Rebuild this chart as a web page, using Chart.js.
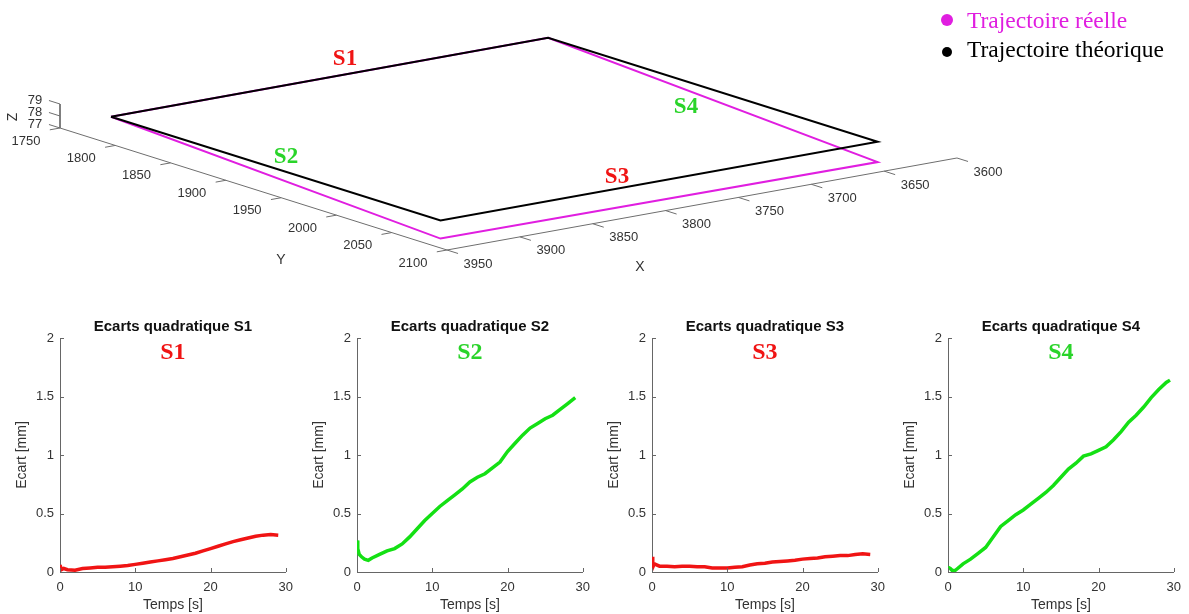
<!DOCTYPE html>
<html>
<head>
<meta charset="utf-8">
<script src="https://cdn.jsdelivr.net/npm/chart.js@4.4.0/dist/chart.umd.min.js"></script>
<style>
    html, body { margin: 0; padding: 0; background: #fff; }
    #page { position: relative; width: 1189px; height: 614px; overflow: hidden; }
    canvas { position: absolute; }
</style>
</head>
<body>
<div id="page">
    <canvas id="traj3d" width="1189" height="300" style="left:0;top:0"></canvas>
    <canvas id="ecartS1" width="301" height="304" style="left:0;top:310px"></canvas>
    <canvas id="ecartS2" width="301" height="304" style="left:297px;top:310px"></canvas>
    <canvas id="ecartS3" width="301" height="304" style="left:592px;top:310px"></canvas>
    <canvas id="ecartS4" width="301" height="304" style="left:888px;top:310px"></canvas>
</div>
<script>
// 3D trajectories, machine coordinates in mm
const theoX = [3937, 3637, 3637, 3937, 3937];
const theoY = [1779, 1779, 2077, 2077, 1779];
const theoZ = [78.5, 78.5, 78.5, 78.5, 78.5];

const realX = [3937, 3637, 3637, 3937, 3937];
const realY = [1779, 1779, 2077, 2077, 1779];
const realZ = [78.5, 78.5, 76.8, 77.0, 78.5];

const xTicks = [3600, 3650, 3700, 3750, 3800, 3850, 3900, 3950];
const yTicks = [1750, 1800, 1850, 1900, 1950, 2000, 2050, 2100];
const zTicks = [77, 78, 79];

// Deviation per segment (time in s, ecart in mm)
const tS1 = [0, 0.2, 0.5, 1, 2, 3, 4, 5, 6, 7, 8, 9, 10, 11, 12, 13, 14, 15, 16, 17, 18, 19, 20, 21, 22, 23, 24, 25, 26, 27, 28, 29];
const ecartS1 = [0.06, 0.02, 0.03, 0.02, 0.015, 0.03, 0.035, 0.04, 0.04, 0.045, 0.05, 0.055, 0.065, 0.075, 0.085, 0.095, 0.105, 0.115, 0.13, 0.145, 0.16, 0.18, 0.2, 0.22, 0.24, 0.26, 0.275, 0.29, 0.305, 0.315, 0.32, 0.315];

const tS2 = [0, 0.1, 0.3, 0.6, 1, 1.5, 2, 3, 4, 5, 6, 7, 8, 9, 10, 11, 12, 13, 14, 15, 16, 17, 18, 19, 20, 21, 22, 23, 24, 25, 26, 27, 28, 29];
const ecartS2 = [0.27, 0.2, 0.15, 0.13, 0.11, 0.1, 0.12, 0.15, 0.18, 0.2, 0.24, 0.3, 0.37, 0.44, 0.5, 0.56, 0.61, 0.66, 0.71, 0.77, 0.81, 0.84, 0.89, 0.94, 1.03, 1.1, 1.17, 1.23, 1.27, 1.31, 1.34, 1.39, 1.44, 1.49];

const tS3 = [0, 0.1, 0.3, 1, 2, 3, 4, 5, 6, 7, 8, 9, 10, 11, 12, 13, 14, 15, 16, 17, 18, 19, 20, 21, 22, 23, 24, 25, 26, 27, 28, 29];
const ecartS3 = [0.13, 0.04, 0.07, 0.05, 0.05, 0.045, 0.05, 0.05, 0.045, 0.045, 0.035, 0.035, 0.035, 0.04, 0.045, 0.06, 0.07, 0.075, 0.085, 0.09, 0.095, 0.1, 0.11, 0.115, 0.12, 0.13, 0.135, 0.14, 0.14, 0.15, 0.155, 0.15];

const tS4 = [0, 0.3, 0.6, 1, 2, 3, 4, 5, 6, 7, 8, 9, 10, 11, 12, 13, 14, 15, 16, 17, 18, 19, 20, 21, 22, 23, 24, 25, 26, 27, 28, 29, 29.5];
const ecartS4 = [0.04, 0.03, 0.01, 0.015, 0.07, 0.11, 0.16, 0.21, 0.3, 0.39, 0.44, 0.49, 0.53, 0.58, 0.63, 0.68, 0.74, 0.81, 0.88, 0.93, 0.99, 1.01, 1.04, 1.07, 1.13, 1.2, 1.28, 1.34, 1.41, 1.49, 1.56, 1.62, 1.64];

const timeTicks = [0, 10, 20, 30];
const ecartTicks = [0, 0.5, 1, 1.5, 2];

const RED = '#f01414';
const GREEN = '#14e014';
const GREEN_TEXT = '#2ad42a';
const MAGENTA = '#e01ee0';
const SANS = '"Liberation Sans", Arial, sans-serif';
const SERIF = '"Liberation Serif", "Times New Roman", serif';

// oblique view taken from the matlab figure, origin is (X=3950, Y=1750, Z=77)
const view = { ox: 60, oy: 128, xx: -1.4571, xy: 0.2629, yx: 1.1057, yy: 0.3486, zy: -12 };

function project(X, Y, Z) {
    const u = X - 3950, v = Y - 1750, w = Z - 77;
    return {
        x: view.ox + u * view.xx + v * view.yx,
        y: view.oy + u * view.xy + v * view.yy + w * view.zy
    };
}

const toPath = (xs, ys, zs) => xs.map((x, i) => project(x, ys[i], zs[i]));

// axis box lines: Z up, then Y, then X
const axisPts = [
    project(3950, 1750, 79), project(3950, 1750, 77),
    project(3950, 2100, 77), project(3600, 2100, 77)
];

// small tick marks, separated by nulls so each one is its own segment
const gap = { x: null, y: null };
const tickPts = [];
yTicks.forEach(y => tickPts.push(project(3950, y, 77), project(3957, y, 77), gap));
xTicks.forEach(x => tickPts.push(project(x, 2100, 77), project(x, 2110, 77), gap));
zTicks.forEach(z => tickPts.push(project(3950, 1750, z), project(3950, 1740, z), gap));

// labels, legend and segment names of the 3D view
const trajLabels = {
    id: 'trajLabels',
    afterDraw(chart) {
        const ctx = chart.ctx;
        ctx.save();
        ctx.fillStyle = '#333';
        ctx.font = '13px ' + SANS;
        ctx.textAlign = 'center';
        ctx.textBaseline = 'middle';
        yTicks.forEach(y => {
            const p = project(3950, y, 77);
            ctx.fillText(String(y), p.x - 34, p.y + 13);
        });
        xTicks.forEach(x => {
            const p = project(x, 2100, 77);
            ctx.fillText(String(x), p.x + 31, p.y + 14);
        });
        zTicks.forEach(z => {
            const p = project(3950, 1750, z);
            ctx.fillText(String(z), p.x - 25, p.y - 4);
        });
        ctx.font = '14px ' + SANS;
        ctx.fillText('Y', 281, 260);
        ctx.fillText('X', 640, 267);
        ctx.save();
        ctx.translate(13, 117);
        ctx.rotate(-Math.PI / 2);
        ctx.fillText('Z', 0, 0);
        ctx.restore();

        // segment names
        ctx.font = 'bold 23px ' + SERIF;
        ctx.fillStyle = RED;
        ctx.fillText('S1', 345, 59);
        ctx.fillText('S3', 617, 177);
        ctx.fillStyle = GREEN_TEXT;
        ctx.fillText('S2', 286, 157);
        ctx.fillText('S4', 686, 107);

        // legend
        ctx.textAlign = 'left';
        ctx.font = '23.5px ' + SERIF;
        ctx.fillStyle = MAGENTA;
        ctx.beginPath(); ctx.arc(947, 20, 6, 0, Math.PI * 2); ctx.fill();
        ctx.fillText('Trajectoire réelle', 967, 22);
        ctx.fillStyle = '#000';
        ctx.beginPath(); ctx.arc(947, 52, 5, 0, Math.PI * 2); ctx.fill();
        ctx.fillText('Trajectoire théorique', 967, 51);
        ctx.restore();
    }
};

new Chart(document.getElementById('traj3d'), {
    type: 'scatter',
    data: {
        datasets: [
            { label: 'Trajectoire théorique', data: toPath(theoX, theoY, theoZ), showLine: true,
              borderColor: '#000', borderWidth: 2, pointRadius: 0, order: 0 },
            { label: 'Trajectoire réelle', data: toPath(realX, realY, realZ), showLine: true,
              borderColor: MAGENTA, borderWidth: 2, pointRadius: 0, order: 1 },
            { label: 'axes', data: axisPts, showLine: true,
              borderColor: '#6e6e6e', borderWidth: 1, pointRadius: 0, order: 2 },
            { label: 'ticks', data: tickPts, showLine: true, spanGaps: false,
              borderColor: '#6e6e6e', borderWidth: 1, pointRadius: 0, order: 3 }
        ]
    },
    options: {
        responsive: false,
        animation: false,
        layout: { padding: 0 },
        scales: {
            x: { type: 'linear', min: 0, max: 1189, display: false },
            y: { type: 'linear', min: 0, max: 300, reverse: true, display: false }
        },
        plugins: { legend: { display: false }, tooltip: { enabled: false } }
    },
    plugins: [trajLabels]
});

// matlab style ticks pointing into the plot
const inwardTicks = {
    id: 'inwardTicks',
    afterDraw(chart) {
        const { ctx, chartArea, scales } = chart;
        ctx.save();
        ctx.strokeStyle = '#666';
        ctx.lineWidth = 1;
        ctx.beginPath();
        scales.x.ticks.forEach(t => {
            const px = Math.round(scales.x.getPixelForValue(t.value)) + 0.5;
            ctx.moveTo(px, chartArea.bottom);
            ctx.lineTo(px, chartArea.bottom - 4);
        });
        scales.y.ticks.forEach(t => {
            const py = Math.round(scales.y.getPixelForValue(t.value)) + 0.5;
            ctx.moveTo(chartArea.left, py);
            ctx.lineTo(chartArea.left + 4, py);
        });
        ctx.stroke();
        ctx.restore();
    }
};

// title above the axes (centred on the plot, like matlab) and big segment name inside
const plotHeadings = {
    id: 'plotHeadings',
    afterDraw(chart, args, opts) {
        const { ctx, chartArea } = chart;
        const cx = (chartArea.left + chartArea.right) / 2;
        ctx.save();
        ctx.textAlign = 'center';
        ctx.textBaseline = 'middle';
        ctx.font = 'bold 15px ' + SANS;
        ctx.fillStyle = '#111';
        ctx.fillText(opts.title, cx, chartArea.top - 11);
        ctx.font = 'bold 24px ' + SERIF;
        ctx.fillStyle = opts.color;
        ctx.fillText(opts.text, cx, chartArea.top + 15);
        ctx.restore();
    }
};

function makeEcartChart(canvasId, name, lineColor, textColor, times, values) {
    return new Chart(document.getElementById(canvasId), {
        type: 'scatter',
        data: {
            datasets: [{
                data: times.map((t, i) => ({ x: t, y: values[i] })),
                showLine: true,
                borderColor: lineColor,
                borderWidth: 3.5,
                pointRadius: 0,
                tension: 0
            }]
        },
        options: {
            responsive: false,
            animation: false,
            layout: { padding: { left: 0, right: 0, top: 28, bottom: 0 } },
            scales: {
                x: {
                    type: 'linear', min: 0, max: 30,
                    afterFit: s => { s.height = 42; },
                    afterBuildTicks: s => { s.ticks = timeTicks.map(v => ({ value: v })); },
                    grid: { drawOnChartArea: false, drawTicks: false },
                    border: { display: true, color: '#666', width: 1 },
                    ticks: { color: '#333', font: { family: SANS, size: 13 }, padding: 8, maxRotation: 0 },
                    title: { display: true, text: 'Temps [s]', color: '#333',
                             font: { family: SANS, size: 14 }, padding: { top: 0, bottom: 0 } }
                },
                y: {
                    type: 'linear', min: 0, max: 2,
                    afterFit: s => { s.width = 60; },
                    afterBuildTicks: s => { s.ticks = ecartTicks.map(v => ({ value: v })); },
                    grid: { drawOnChartArea: false, drawTicks: false },
                    border: { display: true, color: '#666', width: 1 },
                    ticks: { color: '#333', font: { family: SANS, size: 13 }, padding: 6,
                             callback: v => String(v) },
                    title: { display: true, text: 'Ecart [mm]', color: '#333',
                             font: { family: SANS, size: 14 }, padding: { top: 14, bottom: 0 } }
                }
            },
            plugins: {
                legend: { display: false },
                tooltip: { enabled: false },
                plotHeadings: { title: 'Ecarts quadratique ' + name, text: name, color: textColor }
            }
        },
        plugins: [inwardTicks, plotHeadings]
    });
}

makeEcartChart('ecartS1', 'S1', RED, RED, tS1, ecartS1);
makeEcartChart('ecartS2', 'S2', GREEN, GREEN_TEXT, tS2, ecartS2);
makeEcartChart('ecartS3', 'S3', RED, RED, tS3, ecartS3);
makeEcartChart('ecartS4', 'S4', GREEN, GREEN_TEXT, tS4, ecartS4);
</script>
</body>
</html>
